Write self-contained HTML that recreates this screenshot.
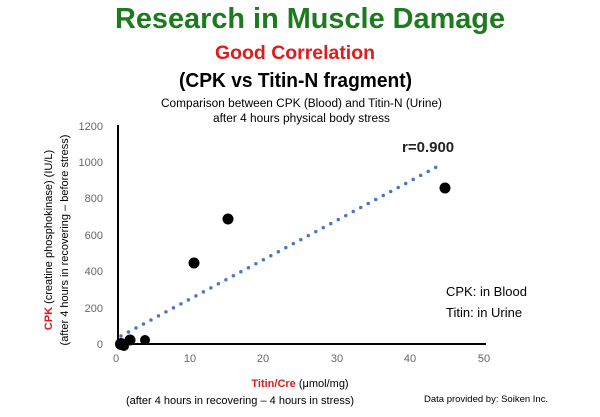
<!DOCTYPE html>
<html><head><meta charset="utf-8"><style>
body{margin:0;background:#fff;width:600px;height:412px;overflow:hidden;font-family:"Liberation Sans",sans-serif}
</style></head><body>
<svg width="600" height="412" xmlns="http://www.w3.org/2000/svg" font-family="Liberation Sans, sans-serif">
<text x="115" y="28" textLength="390" lengthAdjust="spacingAndGlyphs" font-size="29" font-weight="bold" fill="#1e7a1e">Research in Muscle Damage</text>
<text x="215" y="59" textLength="160" lengthAdjust="spacingAndGlyphs" font-size="19" font-weight="bold" fill="#e01b1b">Good Correlation</text>
<text x="179" y="87" textLength="233" lengthAdjust="spacingAndGlyphs" font-size="20" font-weight="bold" fill="#000">(CPK vs Titin-N fragment)</text>
<text x="161" y="107" textLength="281" lengthAdjust="spacingAndGlyphs" font-size="11.5" fill="#000">Comparison between CPK (Blood) and Titin-N (Urine)</text>
<text x="213" y="122" textLength="177" lengthAdjust="spacingAndGlyphs" font-size="11.5" fill="#000">after 4 hours physical body stress</text>
<!-- axes -->
<line x1="118" y1="125" x2="118" y2="344" stroke="#000" stroke-width="2"/>
<line x1="118" y1="344" x2="486" y2="344" stroke="#000" stroke-width="2"/>
<g font-size="11" fill="#666" text-anchor="end">
<text x="103" y="130">1200</text><text x="103" y="166">1000</text><text x="103" y="202">800</text>
<text x="103" y="239">600</text><text x="103" y="275">400</text><text x="103" y="312">200</text><text x="103" y="348">0</text>
</g>
<g font-size="11" fill="#666" text-anchor="middle">
<text x="116" y="362">0</text><text x="190" y="362">10</text><text x="263" y="362">20</text>
<text x="337" y="362">30</text><text x="410" y="362">40</text><text x="484" y="362">50</text>
</g>
<!-- trend -->
<line x1="121" y1="336" x2="442" y2="164" stroke="#4a76c4" stroke-width="3.5" stroke-linecap="round" stroke-dasharray="0 8.5"/>
<!-- points -->
<g fill="#000">
<circle cx="121" cy="344" r="6"/><circle cx="124" cy="346" r="5"/><circle cx="130" cy="340" r="5.5"/>
<circle cx="145" cy="340" r="5"/><circle cx="194" cy="263" r="5.5"/><circle cx="228" cy="219" r="5.5"/>
<circle cx="445" cy="188" r="5.5"/>
</g>
<text x="402" y="152" font-size="15" font-weight="bold" fill="#222">r=0.900</text>
<text x="446" y="296" font-size="13" fill="#000">CPK:  in Blood</text>
<text x="446" y="317" font-size="13" fill="#000">Titin: in Urine</text>
<text transform="translate(52,240) rotate(-90)" text-anchor="middle" font-size="11"><tspan fill="#e01b1b" font-weight="bold">CPK</tspan><tspan fill="#000"> (creatine phosphokinase) (IU/L)</tspan></text>
<text transform="translate(68,240) rotate(-90)" text-anchor="middle" font-size="11" fill="#000">(after 4 hours in recovering – before stress)</text>
<text x="300" y="387" text-anchor="middle" font-size="11"><tspan fill="#e01b1b" font-weight="bold">Titin/Cre</tspan><tspan fill="#000"> (μmol/mg)</tspan></text>
<text x="240" y="404" text-anchor="middle" font-size="11" fill="#000">(after 4 hours in recovering – 4 hours in stress)</text>
<text x="424" y="402" font-size="9.5" fill="#000">Data provided by: Soiken Inc.</text>
</svg>
</body></html>
